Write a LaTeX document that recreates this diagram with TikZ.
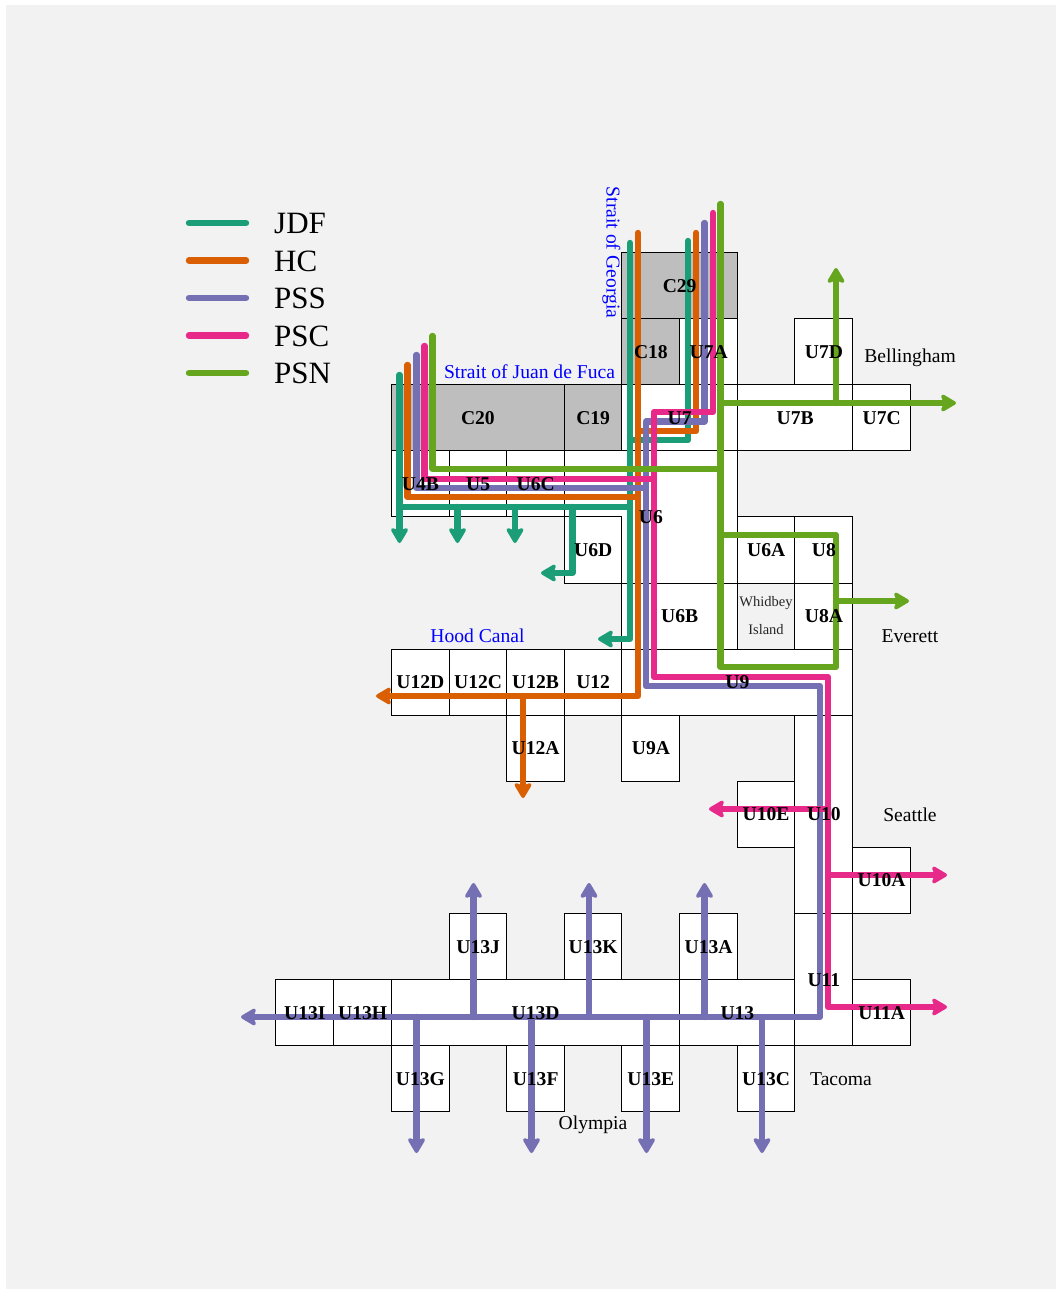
\documentclass[tikz,border=0pt]{standalone}
\usepackage{fontspec}
\setmainfont{Liberation Serif}
\usetikzlibrary{arrows.meta}
\definecolor{bgc}{HTML}{F2F2F2}
\definecolor{grayc}{HTML}{BEBEBE}
\definecolor{jdfc}{HTML}{1B9E77}
\definecolor{hcc}{HTML}{D95F02}
\definecolor{pssc}{HTML}{7570B3}
\definecolor{pscc}{HTML}{E7298A}
\definecolor{psnc}{HTML}{66A61E}
\tikzset{
  cellbox/.style={draw=black,line width=1pt,inner sep=0pt,outer sep=0pt},
  lab/.style={font=\fontsize{19.6}{20}\selectfont\bfseries,inner sep=0pt,anchor=base},
  place/.style={font=\fontsize{19.6}{20}\selectfont,inner sep=0pt,anchor=base},
  water/.style={place,text=blue},
  small/.style={font=\fontsize{14.5}{15}\selectfont,inner sep=0pt,anchor=base,text=black!85},
  legtext/.style={font=\fontsize{31}{32}\selectfont,inner sep=0pt,anchor=base west},
  route/.style={line width=6.4pt,line join=round,line cap=round},
  tip/.style={-{Stealth[length=18pt,width=21pt,inset=4pt,round,line width=4pt]}},
  jdf/.style={route,draw=jdfc}, hc/.style={route,draw=hcc}, pss/.style={route,draw=pssc},
  psc/.style={route,draw=pscc}, psn/.style={route,draw=psnc},
}
\newcommand{\mkcell}[6][white]{%
  \pgfmathsetmacro{\cw}{#5-#3}\pgfmathsetmacro{\ch}{#6-#4}%
  \pgfmathsetmacro{\cx}{(#3+#5)/2-0.1}\pgfmathsetmacro{\cy}{(#4+#6)/2}%
  \node[cellbox,fill=#1,minimum width=\cw pt,minimum height=\ch pt] (#2) at (\cx,\cy) {};}
\begin{document}
\begin{tikzpicture}[x=1pt,y=-1pt]
\useasboundingbox (0,0) rectangle (1056,1289);
\fill[bgc] (6,5) rectangle (1056,1289);
% cells
\mkcell[grayc]{C29}{622}{252}{737.5}{318.5}
\mkcell[grayc]{C18}{622}{318.5}{680}{384.5}
\mkcell{U7A}{680}{318.5}{737.5}{384.5}
\mkcell{U7D}{795}{318.5}{853}{384.5}
\mkcell[grayc]{C20}{391.5}{384.5}{564.5}{450.5}
\mkcell[grayc]{C19}{564.5}{384.5}{622}{450.5}
\mkcell{U7}{622}{384.5}{737.5}{450.5}
\mkcell{U7B}{737.5}{384.5}{853}{450.5}
\mkcell{U7C}{853}{384.5}{910.5}{450.5}
\mkcell{U4B}{391.5}{450.5}{449.5}{516.5}
\mkcell{U5}{449.5}{450.5}{507}{516.5}
\mkcell{U6C}{507}{450.5}{564.5}{516.5}
\mkcell{U6}{564.5}{450.5}{737.5}{583}
\mkcell{U6D}{564.5}{516.5}{622}{583}
\mkcell{U6A}{737.5}{516.5}{795}{583}
\mkcell{U8}{795}{516.5}{853}{583}
\mkcell{U6B}{622}{583}{737.5}{649}
\mkcell[bgc]{WI}{737.5}{583}{795}{649}
\mkcell{U8A}{795}{583}{853}{649}
\mkcell{U12D}{391.5}{649}{449.5}{715}
\mkcell{U12C}{449.5}{649}{507}{715}
\mkcell{U12B}{507}{649}{564.5}{715}
\mkcell{U12}{564.5}{649}{622}{715}
\mkcell{U9}{622}{649}{853}{715}
\mkcell{U12A}{507}{715}{564.5}{781}
\mkcell{U9A}{622}{715}{680}{781}
\mkcell{U10}{795}{715}{853}{913}
\mkcell{U10E}{737.5}{781}{795}{847}
\mkcell{U10A}{853}{847}{910.5}{913}
\mkcell{U11}{795}{913}{853}{1045.5}
\mkcell{U11A}{853}{979.5}{910.5}{1045.5}
\mkcell{U13}{680}{979.5}{795}{1045.5}
\mkcell{U13D}{391.5}{979.5}{680}{1045.5}
\mkcell{U13H}{334}{979.5}{391.5}{1045.5}
\mkcell{U13I}{276}{979.5}{334}{1045.5}
\mkcell{U13J}{449.5}{913}{507}{979.5}
\mkcell{U13K}{564.5}{913}{622}{979.5}
\mkcell{U13A}{680}{913}{737.5}{979.5}
\mkcell{U13G}{391.5}{1045.5}{449.5}{1111.5}
\mkcell{U13F}{507}{1045.5}{564.5}{1111.5}
\mkcell{U13E}{622}{1045.5}{680}{1111.5}
\mkcell{U13C}{737.5}{1045.5}{795}{1111.5}
% route points: JDF
\coordinate (ja) at (399.5,375); \coordinate (jb) at (399.5,507); \coordinate (jc) at (630,507);
\coordinate (jd) at (630,243); \coordinate (je) at (630,639); \coordinate (jf) at (598,639);
\coordinate (jg) at (688,241); \coordinate (jh) at (688,440); \coordinate (ji) at (630,440);
\coordinate (jt1) at (399.5,543); \coordinate (jt2) at (457.5,543); \coordinate (jt3) at (515,543);
\coordinate (jb2) at (457.5,507); \coordinate (jb3) at (515,507);
\coordinate (jb4) at (572.5,507); \coordinate (jk) at (572.5,573); \coordinate (jl) at (541,573);
% HC
\coordinate (ha) at (407.5,365); \coordinate (hb) at (407.5,497); \coordinate (hc) at (638,497);
\coordinate (hd) at (638,233); \coordinate (he) at (638,696); \coordinate (hf) at (376,696);
\coordinate (hg) at (696,233); \coordinate (hh) at (696,431); \coordinate (hi) at (638,431);
\coordinate (hj) at (523,696); \coordinate (hk) at (523,798);
% PSS
\coordinate (sa) at (416.5,355); \coordinate (sb) at (416.5,488); \coordinate (sc) at (646,488);
\coordinate (sd) at (704.5,223); \coordinate (se) at (704.5,421.5); \coordinate (sf) at (646,421.5);
\coordinate (sg) at (646,686); \coordinate (sh) at (820,686); \coordinate (si) at (820,1017); \coordinate (sj) at (241,1017);
\coordinate (su1) at (473.5,1017); \coordinate (st1) at (473.5,883);
\coordinate (su2) at (589,1017); \coordinate (st2) at (589,883);
\coordinate (su3) at (704.5,1017); \coordinate (st3) at (704.5,883);
\coordinate (sd1) at (416.5,1017); \coordinate (sv1) at (416.5,1153);
\coordinate (sd2) at (531.5,1017); \coordinate (sv2) at (531.5,1153);
\coordinate (sd3) at (646.5,1017); \coordinate (sv3) at (646.5,1153);
\coordinate (sd4) at (762,1017); \coordinate (sv4) at (762,1153);
% PSC
\coordinate (ca) at (424.5,346); \coordinate (cb) at (424.5,479); \coordinate (cc) at (654,479);
\coordinate (cd) at (713,213); \coordinate (ce) at (713,412); \coordinate (cf) at (654,412);
\coordinate (cg) at (654,677); \coordinate (ch) at (828,677); \coordinate (ci) at (828,1007); \coordinate (cj) at (947,1007);
\coordinate (ck) at (828,809); \coordinate (cl) at (709,809);
\coordinate (cm) at (828,875); \coordinate (cn) at (947,875);
% PSN
\coordinate (na) at (432.5,336); \coordinate (nb) at (432.5,469); \coordinate (nc) at (720.5,469);
\coordinate (nd) at (720.5,204); \coordinate (ne) at (720.5,667); \coordinate (nf) at (836,667); \coordinate (ng) at (836,535); \coordinate (nh) at (720.5,535);
\coordinate (ni) at (720.5,403); \coordinate (nj) at (956,403);
\coordinate (nk) at (836,403); \coordinate (nl) at (836,268);
\coordinate (nm) at (836,601); \coordinate (nn) at (909,601);
% routes
\draw[jdf] (ja) -- (jb) -- (jc);
\draw[jdf,tip] (jb) -- (jt1);
\draw[jdf,tip] (jb2) -- (jt2);
\draw[jdf,tip] (jb3) -- (jt3);
\draw[jdf,tip] (jb4) -- (jk) -- (jl);
\draw[jdf,tip] (jd) -- (je) -- (jf);
\draw[jdf] (jg) -- (jh) -- (ji);
\draw[hc] (ha) -- (hb) -- (hc);
\draw[hc,tip] (hd) -- (he) -- (hf);
\draw[hc] (hg) -- (hh) -- (hi);
\draw[hc,tip] (hj) -- (hk);
\draw[pss] (sa) -- (sb) -- (sc);
\draw[pss,tip] (sd) -- (se) -- (sf) -- (sg) -- (sh) -- (si) -- (sj);
\draw[pss,tip] (su1) -- (st1);
\draw[pss,tip] (su2) -- (st2);
\draw[pss,tip] (su3) -- (st3);
\draw[pss,tip] (sd1) -- (sv1);
\draw[pss,tip] (sd2) -- (sv2);
\draw[pss,tip] (sd3) -- (sv3);
\draw[pss,tip] (sd4) -- (sv4);
\draw[psc] (ca) -- (cb) -- (cc);
\draw[psc,tip] (cd) -- (ce) -- (cf) -- (cg) -- (ch) -- (ci) -- (cj);
\draw[psc,tip] (ck) -- (cl);
\draw[psc,tip] (cm) -- (cn);
\draw[psn] (na) -- (nb) -- (nc);
\draw[psn] (nd) -- (ne) -- (nf) -- (ng) -- (nh);
\draw[psn,tip] (ni) -- (nj);
\draw[psn,tip] (nk) -- (nl);
\draw[psn,tip] (nm) -- (nn);
% cell labels
\foreach \n in {C29,C18,U7A,U7D,C20,C19,U7,U7B,U7C,U4B,U5,U6C,U6,U6D,U6A,U8,U6B,U8A,U12D,U12C,U12B,U12,U9,U12A,U9A,U10,U10E,U10A,U11,U11A,U13,U13D,U13H,U13I,U13J,U13K,U13A,U13G,U13F,U13E,U13C}
  \node[lab] (t\n) at ([yshift=-6.8pt]\n.center) {\n};
\node[small] (wi1) at (766,606) {Whidbey};
\node[small] (wi2) at (766,634) {Island};
% places
\node[place] (bel) at (910,362.5) {Bellingham};
\node[place] (eve) at (910,642.5) {Everett};
\node[place] (sea) at (910,821.7) {Seattle};
\node[place] (tac) at (841,1085) {Tacoma};
\node[place] (oly) at (593,1129) {Olympia};
\node[water] (jdn) at (529.5,378) {Strait of Juan de Fuca};
\node[water] (hcn) at (477.5,642.5) {Hood Canal};
\node[water,rotate=-90] (sog) at (606.5,252.5) {Strait of Georgia};
% legend
\foreach \nm/\st/\yy in {JDF/jdf/223,HC/hc/260.5,PSS/pss/298,PSC/psc/335.5,PSN/psn/373}{
  \coordinate (l\nm a) at (189,\yy); \coordinate (l\nm b) at (246,\yy);
  \draw[\st] (l\nm a) -- (l\nm b);
  \node[legtext] (t\nm) at (274,\yy+10.5) {\nm};
}
\end{tikzpicture}
\end{document}
